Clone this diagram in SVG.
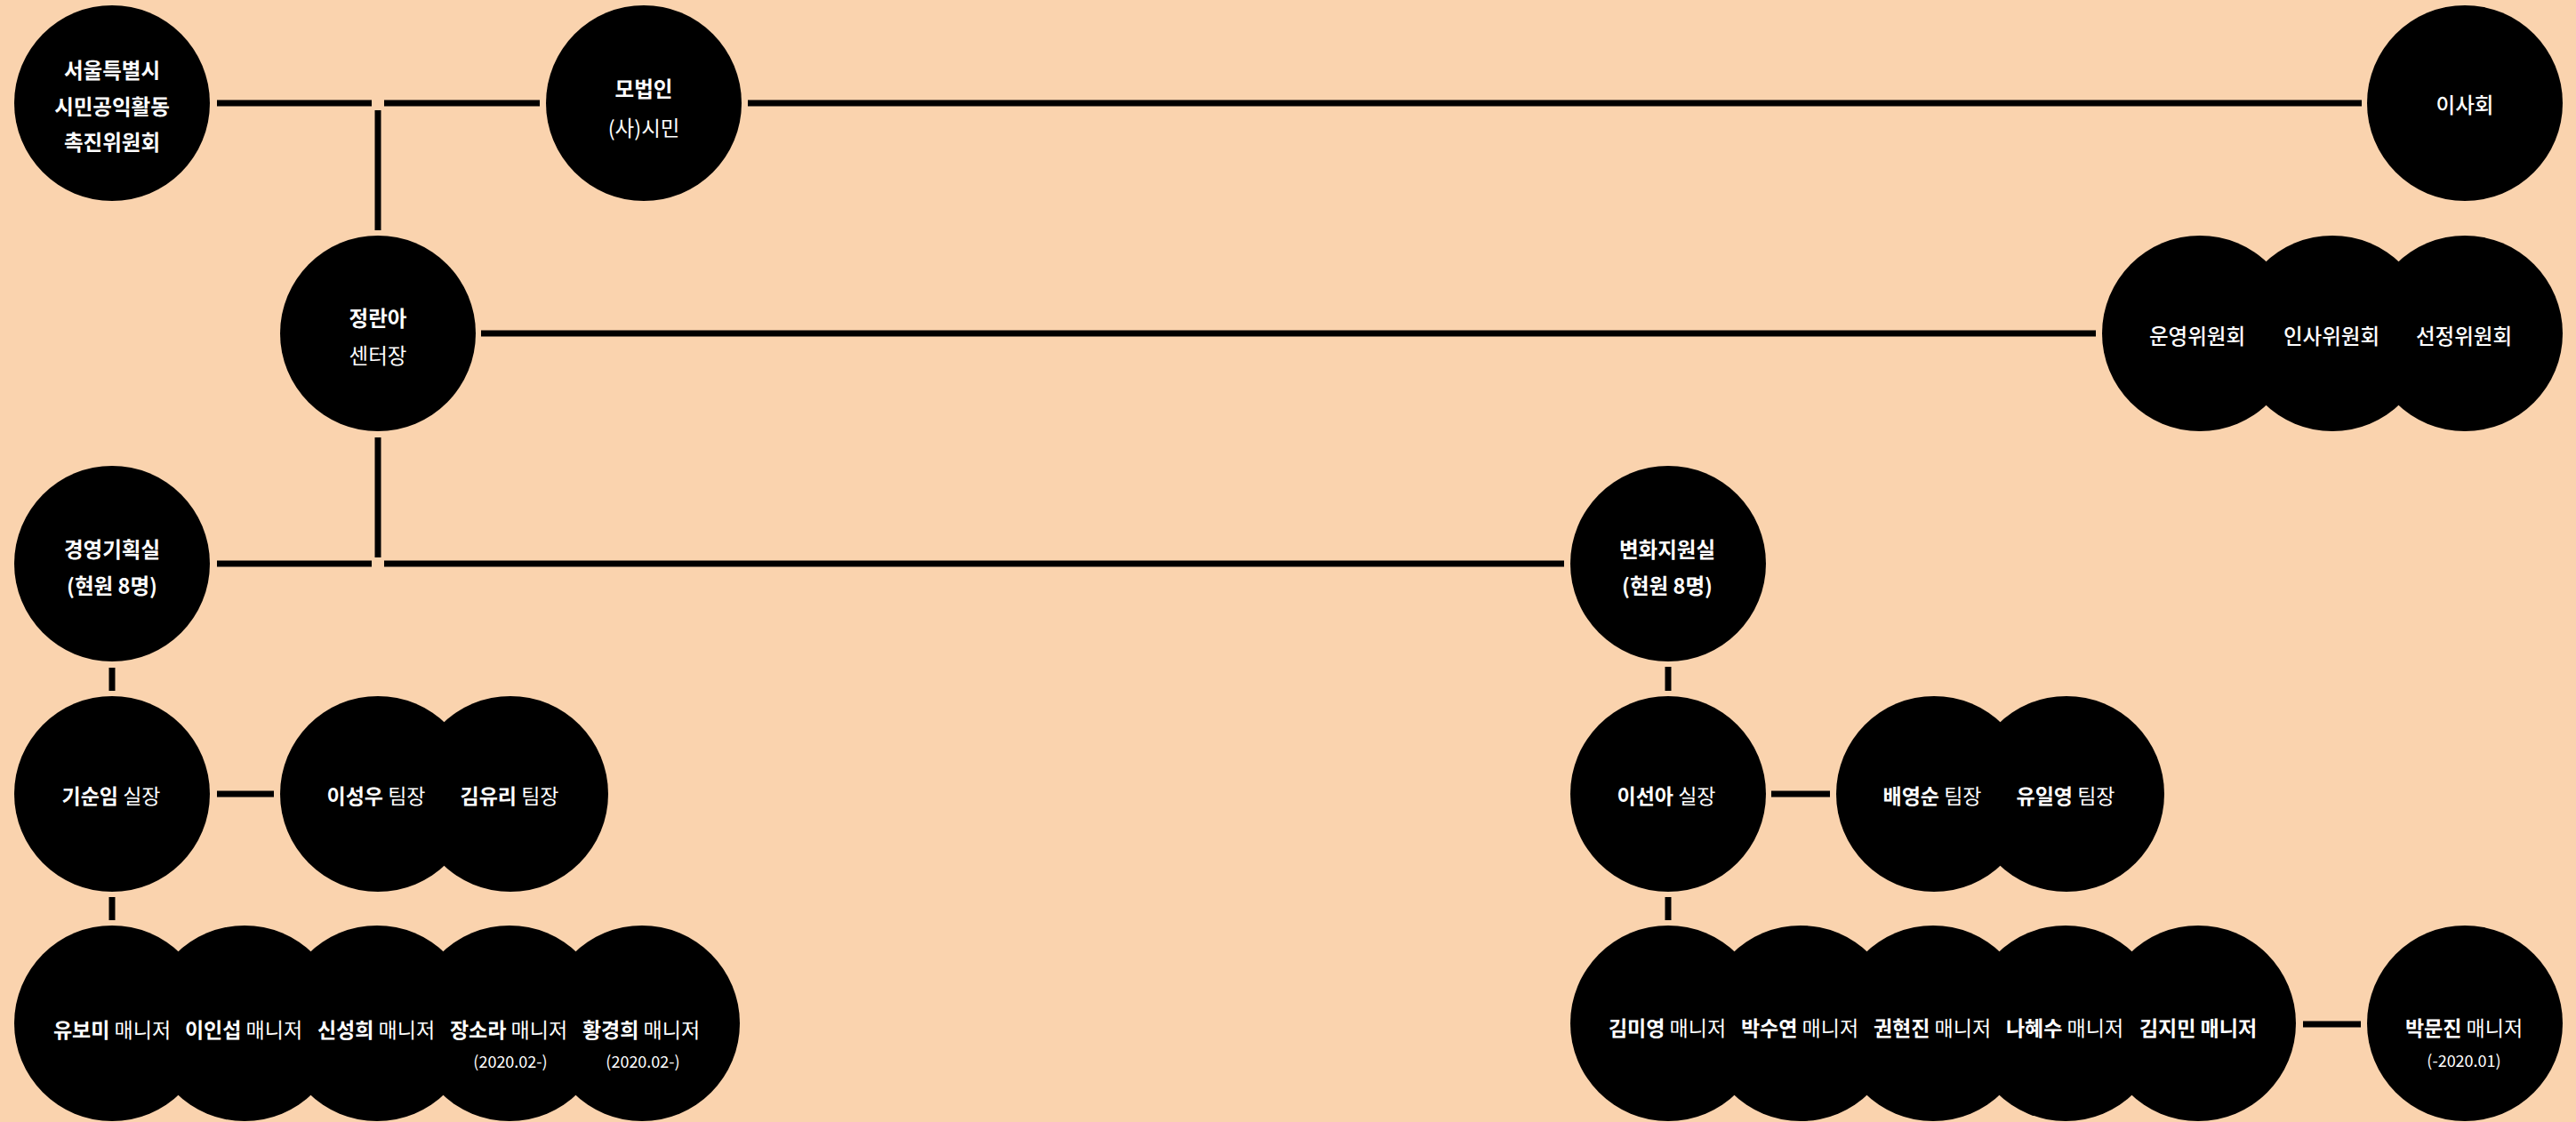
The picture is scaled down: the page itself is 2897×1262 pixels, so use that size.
<svg xmlns="http://www.w3.org/2000/svg" width="2897" height="1262" viewBox="0 0 2897 1262">
<style>
.bgc{fill:#000}
text{font-family:"Noto Sans CJK KR","Noto Sans",sans-serif;fill:#fff;text-anchor:middle;dominant-baseline:central}
.org{font-size:23.5px;font-weight:700}
.med{font-size:23.5px;font-weight:500}
.reg{font-weight:400}
.ml{font-size:23px;font-weight:400}
.mr{font-size:23px;font-weight:400}
.sub{font-size:18px;font-weight:400}
.b{font-weight:700}
.conn line{stroke:#000;stroke-width:7;fill:none}
</style>
<rect width="2897" height="1262" fill="#FAD3AE"/>

<g id="connectors" class="conn">
<line x1="244" y1="116" x2="418" y2="116"/>
<line x1="432" y1="116" x2="607" y2="116"/>
<line x1="841" y1="116" x2="2656" y2="116"/>
<line x1="425" y1="124" x2="425" y2="259"/>
<line x1="541" y1="375" x2="2357" y2="375"/>
<line x1="425" y1="492" x2="425" y2="627"/>
<line x1="244" y1="634" x2="418" y2="634"/>
<line x1="432" y1="634" x2="1759" y2="634"/>
<line x1="126" y1="751" x2="126" y2="777"/>
<line x1="244" y1="893" x2="308" y2="893"/>
<line x1="126" y1="1009" x2="126" y2="1035"/>
<line x1="1876" y1="750" x2="1876" y2="777"/>
<line x1="1992" y1="893" x2="2058" y2="893"/>
<line x1="1876" y1="1009" x2="1876" y2="1035"/>
<line x1="2590" y1="1152" x2="2655" y2="1152"/>
</g>

<g id="node-committee">
<circle class="bgc" cx="126" cy="116" r="110"/>
<text class="org" x="126" y="78">서울특별시</text>
<text class="org" x="126" y="119">시민공익활동</text>
<text class="org" x="126" y="159">촉진위원회</text>
</g>

<g id="node-parent">
<circle class="bgc" cx="724" cy="116" r="110"/>
<text class="org" x="724" y="99">모법인</text>
<text class="med reg" x="724" y="143">(사)시민</text>
</g>

<g id="node-board">
<circle class="bgc" cx="2772" cy="116" r="110"/>
<text class="med" x="2772" y="117">이사회</text>
</g>

<g id="node-director">
<circle class="bgc" cx="425" cy="375" r="110"/>
<text class="org" x="425" y="357">정란아</text>
<text class="med reg" x="425" y="399">센터장</text>
</g>

<g id="cluster-committees">
<circle class="bgc" cx="2474" cy="375" r="110"/>
<circle class="bgc" cx="2623" cy="375" r="110"/>
<circle class="bgc" cx="2772" cy="375" r="110"/>
<g id="node-ops-committee"><text class="med" x="2471" y="377">운영위원회</text></g>
<g id="node-hr-committee"><text class="med" x="2622" y="377">인사위원회</text></g>
<g id="node-selection-committee"><text class="med" x="2771" y="377">선정위원회</text></g>
</g>

<g id="node-planning">
<circle class="bgc" cx="126" cy="634" r="110"/>
<text class="org" x="126" y="617">경영기획실</text>
<text class="org" x="126" y="658">(현원 8명)</text>
</g>

<g id="node-change">
<circle class="bgc" cx="1876" cy="634" r="110"/>
<text class="org" x="1875" y="617">변화지원실</text>
<text class="org" x="1875" y="658">(현원 8명)</text>
</g>

<g id="node-ki">
<circle class="bgc" cx="126" cy="893" r="110"/>
<text class="mr" x="125" y="894"><tspan class="b">기순임</tspan> 실장</text>
</g>

<g id="cluster-left-teams">
<circle class="bgc" cx="425" cy="893" r="110"/>
<circle class="bgc" cx="574" cy="893" r="110"/>
<g id="node-lee-sw"><text class="mr" x="423" y="894"><tspan class="b">이성우</tspan> 팀장</text></g>
<g id="node-kim-yr"><text class="mr" x="573" y="894"><tspan class="b">김유리</tspan> 팀장</text></g>
</g>

<g id="node-lee-sa">
<circle class="bgc" cx="1876" cy="893" r="110"/>
<text class="mr" x="1874" y="894"><tspan class="b">이선아</tspan> 실장</text>
</g>

<g id="cluster-right-teams">
<circle class="bgc" cx="2175" cy="893" r="110"/>
<circle class="bgc" cx="2324" cy="893" r="110"/>
<g id="node-bae"><text class="mr" x="2173" y="894"><tspan class="b">배영순</tspan> 팀장</text></g>
<g id="node-yu-iy"><text class="mr" x="2323" y="894"><tspan class="b">유일영</tspan> 팀장</text></g>
</g>

<g id="cluster-left-managers">
<circle class="bgc" cx="126" cy="1151" r="110"/>
<circle class="bgc" cx="275" cy="1151" r="110"/>
<circle class="bgc" cx="424" cy="1151" r="110"/>
<circle class="bgc" cx="573" cy="1151" r="110"/>
<circle class="bgc" cx="722" cy="1151" r="110"/>
<g id="node-yu-bm"><text class="ml" x="126" y="1157"><tspan class="b">유보미</tspan> 매니저</text></g>
<g id="node-lee-is"><text class="ml" x="274" y="1157"><tspan class="b">이인섭</tspan> 매니저</text></g>
<g id="node-shin"><text class="ml" x="423" y="1157"><tspan class="b">신성희</tspan> 매니저</text></g>
<g id="node-jang"><text class="ml" x="572" y="1157"><tspan class="b">장소라</tspan> 매니저</text>
<text class="sub" x="574" y="1193">(2020.02-)</text></g>
<g id="node-hwang"><text class="ml" x="721" y="1157"><tspan class="b">황경희</tspan> 매니저</text>
<text class="sub" x="723" y="1193">(2020.02-)</text></g>
</g>

<g id="cluster-right-managers">
<circle class="bgc" cx="1876" cy="1151" r="110"/>
<circle class="bgc" cx="2025" cy="1151" r="110"/>
<circle class="bgc" cx="2174" cy="1151" r="110"/>
<circle class="bgc" cx="2323" cy="1151" r="110"/>
<circle class="bgc" cx="2472" cy="1151" r="110"/>
<g id="node-kim-my"><text class="mr" x="1875" y="1155"><tspan class="b">김미영</tspan> 매니저</text></g>
<g id="node-park-sy"><text class="mr" x="2024" y="1155"><tspan class="b">박수연</tspan> 매니저</text></g>
<g id="node-kwon"><text class="mr" x="2173" y="1155"><tspan class="b">권현진</tspan> 매니저</text></g>
<g id="node-na"><text class="mr" x="2322" y="1155"><tspan class="b">나혜수</tspan> 매니저</text></g>
<g id="node-kim-jm"><text class="mr" x="2472" y="1155"><tspan class="b">김지민 매니저</tspan></text></g>
</g>

<g id="node-park-mj">
<circle class="bgc" cx="2772" cy="1151" r="110"/>
<text class="mr" x="2771" y="1155"><tspan class="b">박문진</tspan> 매니저</text>
<text class="sub" x="2771" y="1192">(-2020.01)</text>
</g>
</svg>
